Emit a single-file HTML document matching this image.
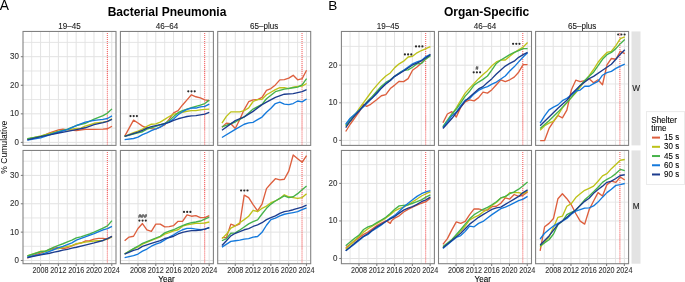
<!DOCTYPE html><html><head><meta charset="utf-8"><style>html,body{margin:0;padding:0;background:#fff;width:685px;height:282px;overflow:hidden}</style></head><body><svg width="685" height="282" viewBox="0 0 685 282" style="display:block;will-change:transform">
<rect width="685" height="282" fill="#fff"/>
<line x1="31.68" y1="31.45" x2="31.68" y2="145.4" stroke="#E2E2E2" stroke-width="0.85"/>
<line x1="49.48" y1="31.45" x2="49.48" y2="145.4" stroke="#E2E2E2" stroke-width="0.85"/>
<line x1="67.28" y1="31.45" x2="67.28" y2="145.4" stroke="#E2E2E2" stroke-width="0.85"/>
<line x1="85.07" y1="31.45" x2="85.07" y2="145.4" stroke="#E2E2E2" stroke-width="0.85"/>
<line x1="102.87" y1="31.45" x2="102.87" y2="145.4" stroke="#E2E2E2" stroke-width="0.85"/>
<line x1="23.0" y1="128.12" x2="116.0" y2="128.12" stroke="#E2E2E2" stroke-width="0.85"/>
<line x1="23.0" y1="99.55" x2="116.0" y2="99.55" stroke="#E2E2E2" stroke-width="0.85"/>
<line x1="23.0" y1="70.97" x2="116.0" y2="70.97" stroke="#E2E2E2" stroke-width="0.85"/>
<line x1="23.0" y1="42.41" x2="116.0" y2="42.41" stroke="#E2E2E2" stroke-width="0.85"/>
<line x1="40.58" y1="31.45" x2="40.58" y2="145.4" stroke="#E2E2E2" stroke-width="1.0"/>
<line x1="58.38" y1="31.45" x2="58.38" y2="145.4" stroke="#E2E2E2" stroke-width="1.0"/>
<line x1="76.17" y1="31.45" x2="76.17" y2="145.4" stroke="#E2E2E2" stroke-width="1.0"/>
<line x1="93.97" y1="31.45" x2="93.97" y2="145.4" stroke="#E2E2E2" stroke-width="1.0"/>
<line x1="111.77" y1="31.45" x2="111.77" y2="145.4" stroke="#E2E2E2" stroke-width="1.0"/>
<line x1="23.0" y1="142.40" x2="116.0" y2="142.40" stroke="#E2E2E2" stroke-width="1.0"/>
<line x1="23.0" y1="113.83" x2="116.0" y2="113.83" stroke="#E2E2E2" stroke-width="1.0"/>
<line x1="23.0" y1="85.26" x2="116.0" y2="85.26" stroke="#E2E2E2" stroke-width="1.0"/>
<line x1="23.0" y1="56.69" x2="116.0" y2="56.69" stroke="#E2E2E2" stroke-width="1.0"/>
<line x1="107.32" y1="31.45" x2="107.32" y2="145.4" stroke="#EE3B3B" stroke-width="1.15" stroke-dasharray="0.01 2" stroke-linecap="round"/>
<polyline points="27.33,139.06 40.70,136.52 49.60,132.97 58.51,129.84 62.97,129.19 67.42,129.84 76.33,130.46 85.24,129.33 94.15,129.33 103.06,129.19 107.51,128.77 111.97,126.23" fill="none" stroke="#DD5F3E" stroke-width="1.35" stroke-linejoin="round" stroke-linecap="butt"/>
<polyline points="27.33,139.06 40.70,135.96 49.60,133.56 58.51,131.16 67.42,129.84 76.33,128.34 80.79,128.06 85.24,126.09 94.15,123.27 103.06,122.14 107.51,121.29 111.97,118.76" fill="none" stroke="#BDC219" stroke-width="1.35" stroke-linejoin="round" stroke-linecap="butt"/>
<polyline points="27.33,138.78 40.70,136.52 49.60,134.27 58.51,131.73 67.42,129.19 76.33,125.52 85.24,123.27 94.15,119.18 103.06,115.65 107.51,113.11 111.97,108.88" fill="none" stroke="#46B24A" stroke-width="1.35" stroke-linejoin="round" stroke-linecap="butt"/>
<polyline points="27.33,140.19 40.70,137.93 49.60,134.83 58.51,132.01 67.42,129.61 76.33,125.52 85.24,122.14 94.15,120.45 103.06,119.32 107.51,118.47 111.97,115.94" fill="none" stroke="#1479DC" stroke-width="1.35" stroke-linejoin="round" stroke-linecap="butt"/>
<polyline points="27.33,139.91 40.70,136.66 49.60,134.83 58.51,132.97 67.42,131.45 76.33,129.61 85.24,127.78 94.15,124.68 103.06,122.70 107.51,121.29 111.97,119.32" fill="none" stroke="#1C3C8E" stroke-width="1.35" stroke-linejoin="round" stroke-linecap="butt"/>
<rect x="23.0" y="31.45" width="93.0" height="113.95" fill="none" stroke="#808080" stroke-width="1.07"/>
<line x1="31.68" y1="150.45" x2="31.68" y2="263.7" stroke="#E2E2E2" stroke-width="0.85"/>
<line x1="49.48" y1="150.45" x2="49.48" y2="263.7" stroke="#E2E2E2" stroke-width="0.85"/>
<line x1="67.28" y1="150.45" x2="67.28" y2="263.7" stroke="#E2E2E2" stroke-width="0.85"/>
<line x1="85.07" y1="150.45" x2="85.07" y2="263.7" stroke="#E2E2E2" stroke-width="0.85"/>
<line x1="102.87" y1="150.45" x2="102.87" y2="263.7" stroke="#E2E2E2" stroke-width="0.85"/>
<line x1="23.0" y1="246.31" x2="116.0" y2="246.31" stroke="#E2E2E2" stroke-width="0.85"/>
<line x1="23.0" y1="217.94" x2="116.0" y2="217.94" stroke="#E2E2E2" stroke-width="0.85"/>
<line x1="23.0" y1="189.57" x2="116.0" y2="189.57" stroke="#E2E2E2" stroke-width="0.85"/>
<line x1="23.0" y1="161.20" x2="116.0" y2="161.20" stroke="#E2E2E2" stroke-width="0.85"/>
<line x1="40.58" y1="150.45" x2="40.58" y2="263.7" stroke="#E2E2E2" stroke-width="1.0"/>
<line x1="58.38" y1="150.45" x2="58.38" y2="263.7" stroke="#E2E2E2" stroke-width="1.0"/>
<line x1="76.17" y1="150.45" x2="76.17" y2="263.7" stroke="#E2E2E2" stroke-width="1.0"/>
<line x1="93.97" y1="150.45" x2="93.97" y2="263.7" stroke="#E2E2E2" stroke-width="1.0"/>
<line x1="111.77" y1="150.45" x2="111.77" y2="263.7" stroke="#E2E2E2" stroke-width="1.0"/>
<line x1="23.0" y1="260.50" x2="116.0" y2="260.50" stroke="#E2E2E2" stroke-width="1.0"/>
<line x1="23.0" y1="232.13" x2="116.0" y2="232.13" stroke="#E2E2E2" stroke-width="1.0"/>
<line x1="23.0" y1="203.76" x2="116.0" y2="203.76" stroke="#E2E2E2" stroke-width="1.0"/>
<line x1="23.0" y1="175.39" x2="116.0" y2="175.39" stroke="#E2E2E2" stroke-width="1.0"/>
<line x1="107.32" y1="150.45" x2="107.32" y2="263.7" stroke="#EE3B3B" stroke-width="1.15" stroke-dasharray="0.01 2" stroke-linecap="round"/>
<polyline points="27.33,258.24 31.79,255.99 40.70,253.17 45.15,251.48 49.60,249.50 54.06,248.18 58.51,247.53 62.97,248.65 67.42,247.72 71.88,245.95 76.33,244.14 80.79,243.01 85.24,241.04 89.70,240.76 94.15,239.21 98.60,238.36 103.06,238.36 107.51,239.21 111.97,236.36" fill="none" stroke="#DD5F3E" stroke-width="1.35" stroke-linejoin="round" stroke-linecap="butt"/>
<polyline points="27.33,255.99 36.24,252.89 40.70,251.28 45.15,251.48 49.60,250.40 54.06,249.08 58.51,248.65 62.97,247.30 67.42,246.40 71.88,245.55 76.33,243.58 80.79,243.01 85.24,242.17 89.70,241.60 94.15,241.04 103.06,240.48 107.51,238.84 111.97,236.81" fill="none" stroke="#BDC219" stroke-width="1.35" stroke-linejoin="round" stroke-linecap="butt"/>
<polyline points="27.33,255.99 40.70,251.76 45.15,251.28 49.60,249.08 54.06,247.02 58.51,245.27 62.97,243.75 67.42,241.97 71.88,240.19 76.33,237.94 80.79,236.81 85.24,235.40 89.70,233.99 94.15,232.13 98.60,230.15 103.06,228.07 107.51,225.92 111.97,220.59" fill="none" stroke="#46B24A" stroke-width="1.35" stroke-linejoin="round" stroke-linecap="butt"/>
<polyline points="27.33,257.12 40.70,254.30 45.15,253.22 49.60,251.28 54.06,249.50 58.51,247.72 62.97,246.40 67.42,244.62 71.88,242.84 76.33,240.19 85.24,236.81 94.15,233.62 103.06,229.90 107.51,228.63 111.97,226.37" fill="none" stroke="#1479DC" stroke-width="1.35" stroke-linejoin="round" stroke-linecap="butt"/>
<polyline points="27.33,257.68 40.70,254.86 45.15,254.13 49.60,253.22 54.06,252.18 58.51,251.28 62.97,250.21 67.42,249.33 71.88,248.18 76.33,247.24 85.24,245.13 94.15,242.93 103.06,240.48 107.51,238.59 111.97,236.36" fill="none" stroke="#1C3C8E" stroke-width="1.35" stroke-linejoin="round" stroke-linecap="butt"/>
<rect x="23.0" y="150.45" width="93.0" height="113.25" fill="none" stroke="#808080" stroke-width="1.07"/>
<text transform="translate(69.50,28.70) scale(0.870,1)" font-family="Liberation Sans, sans-serif" font-size="9.30" fill="#1A1A1A" stroke="#1A1A1A" stroke-width="0.1" text-anchor="middle" >19–45</text>
<line x1="40.58" y1="263.7" x2="40.58" y2="265.90" stroke="#808080" stroke-width="1.07"/>
<text transform="translate(40.58,272.90) scale(0.840,1)" font-family="Liberation Sans, sans-serif" font-size="8.60" fill="#333333" stroke="#333333" stroke-width="0.1" text-anchor="middle" >2008</text>
<line x1="58.38" y1="263.7" x2="58.38" y2="265.90" stroke="#808080" stroke-width="1.07"/>
<text transform="translate(58.38,272.90) scale(0.840,1)" font-family="Liberation Sans, sans-serif" font-size="8.60" fill="#333333" stroke="#333333" stroke-width="0.1" text-anchor="middle" >2012</text>
<line x1="76.17" y1="263.7" x2="76.17" y2="265.90" stroke="#808080" stroke-width="1.07"/>
<text transform="translate(76.17,272.90) scale(0.840,1)" font-family="Liberation Sans, sans-serif" font-size="8.60" fill="#333333" stroke="#333333" stroke-width="0.1" text-anchor="middle" >2016</text>
<line x1="93.97" y1="263.7" x2="93.97" y2="265.90" stroke="#808080" stroke-width="1.07"/>
<text transform="translate(93.97,272.90) scale(0.840,1)" font-family="Liberation Sans, sans-serif" font-size="8.60" fill="#333333" stroke="#333333" stroke-width="0.1" text-anchor="middle" >2020</text>
<line x1="111.77" y1="263.7" x2="111.77" y2="265.90" stroke="#808080" stroke-width="1.07"/>
<text transform="translate(111.77,272.90) scale(0.840,1)" font-family="Liberation Sans, sans-serif" font-size="8.60" fill="#333333" stroke="#333333" stroke-width="0.1" text-anchor="middle" >2024</text>
<line x1="129.08" y1="31.45" x2="129.08" y2="145.4" stroke="#E2E2E2" stroke-width="0.85"/>
<line x1="146.88" y1="31.45" x2="146.88" y2="145.4" stroke="#E2E2E2" stroke-width="0.85"/>
<line x1="164.68" y1="31.45" x2="164.68" y2="145.4" stroke="#E2E2E2" stroke-width="0.85"/>
<line x1="182.47" y1="31.45" x2="182.47" y2="145.4" stroke="#E2E2E2" stroke-width="0.85"/>
<line x1="200.27" y1="31.45" x2="200.27" y2="145.4" stroke="#E2E2E2" stroke-width="0.85"/>
<line x1="120.4" y1="128.12" x2="213.4" y2="128.12" stroke="#E2E2E2" stroke-width="0.85"/>
<line x1="120.4" y1="99.55" x2="213.4" y2="99.55" stroke="#E2E2E2" stroke-width="0.85"/>
<line x1="120.4" y1="70.97" x2="213.4" y2="70.97" stroke="#E2E2E2" stroke-width="0.85"/>
<line x1="120.4" y1="42.41" x2="213.4" y2="42.41" stroke="#E2E2E2" stroke-width="0.85"/>
<line x1="137.98" y1="31.45" x2="137.98" y2="145.4" stroke="#E2E2E2" stroke-width="1.0"/>
<line x1="155.78" y1="31.45" x2="155.78" y2="145.4" stroke="#E2E2E2" stroke-width="1.0"/>
<line x1="173.57" y1="31.45" x2="173.57" y2="145.4" stroke="#E2E2E2" stroke-width="1.0"/>
<line x1="191.37" y1="31.45" x2="191.37" y2="145.4" stroke="#E2E2E2" stroke-width="1.0"/>
<line x1="209.17" y1="31.45" x2="209.17" y2="145.4" stroke="#E2E2E2" stroke-width="1.0"/>
<line x1="120.4" y1="142.40" x2="213.4" y2="142.40" stroke="#E2E2E2" stroke-width="1.0"/>
<line x1="120.4" y1="113.83" x2="213.4" y2="113.83" stroke="#E2E2E2" stroke-width="1.0"/>
<line x1="120.4" y1="85.26" x2="213.4" y2="85.26" stroke="#E2E2E2" stroke-width="1.0"/>
<line x1="120.4" y1="56.69" x2="213.4" y2="56.69" stroke="#E2E2E2" stroke-width="1.0"/>
<line x1="204.72" y1="31.45" x2="204.72" y2="145.4" stroke="#EE3B3B" stroke-width="1.15" stroke-dasharray="0.01 2" stroke-linecap="round"/>
<polyline points="124.63,136.41 133.54,120.17 138.00,122.99 142.45,126.09 146.90,127.78 151.36,128.63 155.81,129.19 160.27,126.93 164.72,124.96 169.18,119.04 173.63,112.83 178.09,110.58 182.54,104.94 187.00,99.86 191.45,94.78 195.90,96.76 200.36,97.89 204.81,99.86 209.27,100.71" fill="none" stroke="#DD5F3E" stroke-width="1.35" stroke-linejoin="round" stroke-linecap="butt"/>
<polyline points="124.63,136.41 133.54,132.58 138.00,131.02 142.45,129.19 146.90,126.37 151.36,124.23 155.81,123.83 160.27,122.14 164.72,119.32 169.18,116.50 173.63,114.10 178.09,113.40 182.54,112.27 187.00,111.28 191.45,110.58 195.90,110.58 200.36,109.87 204.81,109.45 209.27,109.17" fill="none" stroke="#BDC219" stroke-width="1.35" stroke-linejoin="round" stroke-linecap="butt"/>
<polyline points="124.63,136.41 138.00,132.86 142.45,131.73 146.90,129.19 151.36,127.78 155.81,126.37 160.27,124.96 164.72,123.27 169.18,120.73 173.63,116.50 178.09,112.69 182.54,110.58 187.00,109.17 191.45,107.76 195.90,106.35 200.36,105.22 204.81,103.53 209.27,100.14" fill="none" stroke="#46B24A" stroke-width="1.35" stroke-linejoin="round" stroke-linecap="butt"/>
<polyline points="124.63,139.60 133.54,138.50 138.00,137.09 142.45,134.55 146.90,132.86 151.36,130.60 155.81,128.91 160.27,127.08 164.72,124.11 169.18,121.86 173.63,119.04 178.09,114.81 182.54,111.70 187.00,109.45 191.45,108.04 195.90,108.04 200.36,106.91 204.81,106.35 209.27,104.09" fill="none" stroke="#1479DC" stroke-width="1.35" stroke-linejoin="round" stroke-linecap="butt"/>
<polyline points="124.63,136.41 138.00,132.10 142.45,130.32 146.90,128.06 151.36,126.65 155.81,125.64 160.27,124.59 164.72,123.55 169.18,122.42 173.63,120.45 178.09,118.76 182.54,117.63 187.00,116.50 191.45,115.94 195.90,115.65 200.36,114.81 204.81,114.10 209.27,112.27" fill="none" stroke="#1C3C8E" stroke-width="1.35" stroke-linejoin="round" stroke-linecap="butt"/>
<rect x="120.4" y="31.45" width="93.0" height="113.95" fill="none" stroke="#808080" stroke-width="1.07"/>
<line x1="129.08" y1="150.45" x2="129.08" y2="263.7" stroke="#E2E2E2" stroke-width="0.85"/>
<line x1="146.88" y1="150.45" x2="146.88" y2="263.7" stroke="#E2E2E2" stroke-width="0.85"/>
<line x1="164.68" y1="150.45" x2="164.68" y2="263.7" stroke="#E2E2E2" stroke-width="0.85"/>
<line x1="182.47" y1="150.45" x2="182.47" y2="263.7" stroke="#E2E2E2" stroke-width="0.85"/>
<line x1="200.27" y1="150.45" x2="200.27" y2="263.7" stroke="#E2E2E2" stroke-width="0.85"/>
<line x1="120.4" y1="246.31" x2="213.4" y2="246.31" stroke="#E2E2E2" stroke-width="0.85"/>
<line x1="120.4" y1="217.94" x2="213.4" y2="217.94" stroke="#E2E2E2" stroke-width="0.85"/>
<line x1="120.4" y1="189.57" x2="213.4" y2="189.57" stroke="#E2E2E2" stroke-width="0.85"/>
<line x1="120.4" y1="161.20" x2="213.4" y2="161.20" stroke="#E2E2E2" stroke-width="0.85"/>
<line x1="137.98" y1="150.45" x2="137.98" y2="263.7" stroke="#E2E2E2" stroke-width="1.0"/>
<line x1="155.78" y1="150.45" x2="155.78" y2="263.7" stroke="#E2E2E2" stroke-width="1.0"/>
<line x1="173.57" y1="150.45" x2="173.57" y2="263.7" stroke="#E2E2E2" stroke-width="1.0"/>
<line x1="191.37" y1="150.45" x2="191.37" y2="263.7" stroke="#E2E2E2" stroke-width="1.0"/>
<line x1="209.17" y1="150.45" x2="209.17" y2="263.7" stroke="#E2E2E2" stroke-width="1.0"/>
<line x1="120.4" y1="260.50" x2="213.4" y2="260.50" stroke="#E2E2E2" stroke-width="1.0"/>
<line x1="120.4" y1="232.13" x2="213.4" y2="232.13" stroke="#E2E2E2" stroke-width="1.0"/>
<line x1="120.4" y1="203.76" x2="213.4" y2="203.76" stroke="#E2E2E2" stroke-width="1.0"/>
<line x1="120.4" y1="175.39" x2="213.4" y2="175.39" stroke="#E2E2E2" stroke-width="1.0"/>
<line x1="204.72" y1="150.45" x2="204.72" y2="263.7" stroke="#EE3B3B" stroke-width="1.15" stroke-dasharray="0.01 2" stroke-linecap="round"/>
<polyline points="124.63,240.76 129.09,237.09 133.54,236.25 138.00,228.49 142.45,223.55 146.90,229.90 151.36,231.31 155.81,224.12 160.27,224.12 164.72,226.94 169.18,226.66 173.63,225.53 178.09,221.30 182.54,221.30 187.00,214.81 191.45,216.22 195.90,215.66 200.36,217.63 204.81,217.63 209.27,215.66" fill="none" stroke="#DD5F3E" stroke-width="1.35" stroke-linejoin="round" stroke-linecap="butt"/>
<polyline points="124.63,253.73 133.54,248.94 138.00,246.96 142.45,244.14 151.36,240.48 160.27,236.98 164.72,234.13 169.18,232.58 173.63,230.89 178.09,229.76 182.54,226.23 187.00,224.82 191.45,224.12 195.90,223.41 200.36,223.41 204.81,222.99 209.27,222.00" fill="none" stroke="#BDC219" stroke-width="1.35" stroke-linejoin="round" stroke-linecap="butt"/>
<polyline points="124.63,254.01 133.54,248.65 138.00,246.20 142.45,243.30 151.36,239.91 160.27,236.25 164.72,232.86 169.18,231.17 173.63,229.76 178.09,227.64 182.54,225.53 187.00,223.84 191.45,222.71 195.90,222.00 200.36,221.02 204.81,219.18 209.27,217.07" fill="none" stroke="#46B24A" stroke-width="1.35" stroke-linejoin="round" stroke-linecap="butt"/>
<polyline points="124.63,257.68 133.54,255.71 138.00,254.01 142.45,251.19 146.90,249.05 151.36,246.20 155.81,244.14 160.27,242.65 164.72,239.91 169.18,237.09 173.63,234.84 178.09,232.01 182.54,229.76 187.00,228.35 191.45,228.35 195.90,229.05 200.36,229.76 204.81,229.05 209.27,227.64" fill="none" stroke="#1479DC" stroke-width="1.35" stroke-linejoin="round" stroke-linecap="butt"/>
<polyline points="124.63,254.01 133.54,250.35 138.00,249.05 142.45,246.40 151.36,243.30 160.27,240.53 164.72,238.50 169.18,237.66 173.63,236.25 178.09,233.99 182.54,232.30 187.00,231.45 191.45,230.60 195.90,230.60 200.36,230.04 204.81,229.05 209.27,227.64" fill="none" stroke="#1C3C8E" stroke-width="1.35" stroke-linejoin="round" stroke-linecap="butt"/>
<rect x="120.4" y="150.45" width="93.0" height="113.25" fill="none" stroke="#808080" stroke-width="1.07"/>
<text transform="translate(166.90,28.70) scale(0.870,1)" font-family="Liberation Sans, sans-serif" font-size="9.30" fill="#1A1A1A" stroke="#1A1A1A" stroke-width="0.1" text-anchor="middle" >46–64</text>
<line x1="137.98" y1="263.7" x2="137.98" y2="265.90" stroke="#808080" stroke-width="1.07"/>
<text transform="translate(137.98,272.90) scale(0.840,1)" font-family="Liberation Sans, sans-serif" font-size="8.60" fill="#333333" stroke="#333333" stroke-width="0.1" text-anchor="middle" >2008</text>
<line x1="155.78" y1="263.7" x2="155.78" y2="265.90" stroke="#808080" stroke-width="1.07"/>
<text transform="translate(155.78,272.90) scale(0.840,1)" font-family="Liberation Sans, sans-serif" font-size="8.60" fill="#333333" stroke="#333333" stroke-width="0.1" text-anchor="middle" >2012</text>
<line x1="173.57" y1="263.7" x2="173.57" y2="265.90" stroke="#808080" stroke-width="1.07"/>
<text transform="translate(173.57,272.90) scale(0.840,1)" font-family="Liberation Sans, sans-serif" font-size="8.60" fill="#333333" stroke="#333333" stroke-width="0.1" text-anchor="middle" >2016</text>
<line x1="191.37" y1="263.7" x2="191.37" y2="265.90" stroke="#808080" stroke-width="1.07"/>
<text transform="translate(191.37,272.90) scale(0.840,1)" font-family="Liberation Sans, sans-serif" font-size="8.60" fill="#333333" stroke="#333333" stroke-width="0.1" text-anchor="middle" >2020</text>
<line x1="209.17" y1="263.7" x2="209.17" y2="265.90" stroke="#808080" stroke-width="1.07"/>
<text transform="translate(209.17,272.90) scale(0.840,1)" font-family="Liberation Sans, sans-serif" font-size="8.60" fill="#333333" stroke="#333333" stroke-width="0.1" text-anchor="middle" >2024</text>
<line x1="226.38" y1="31.45" x2="226.38" y2="145.4" stroke="#E2E2E2" stroke-width="0.85"/>
<line x1="244.18" y1="31.45" x2="244.18" y2="145.4" stroke="#E2E2E2" stroke-width="0.85"/>
<line x1="261.98" y1="31.45" x2="261.98" y2="145.4" stroke="#E2E2E2" stroke-width="0.85"/>
<line x1="279.77" y1="31.45" x2="279.77" y2="145.4" stroke="#E2E2E2" stroke-width="0.85"/>
<line x1="297.57" y1="31.45" x2="297.57" y2="145.4" stroke="#E2E2E2" stroke-width="0.85"/>
<line x1="217.7" y1="128.12" x2="310.7" y2="128.12" stroke="#E2E2E2" stroke-width="0.85"/>
<line x1="217.7" y1="99.55" x2="310.7" y2="99.55" stroke="#E2E2E2" stroke-width="0.85"/>
<line x1="217.7" y1="70.97" x2="310.7" y2="70.97" stroke="#E2E2E2" stroke-width="0.85"/>
<line x1="217.7" y1="42.41" x2="310.7" y2="42.41" stroke="#E2E2E2" stroke-width="0.85"/>
<line x1="235.28" y1="31.45" x2="235.28" y2="145.4" stroke="#E2E2E2" stroke-width="1.0"/>
<line x1="253.08" y1="31.45" x2="253.08" y2="145.4" stroke="#E2E2E2" stroke-width="1.0"/>
<line x1="270.87" y1="31.45" x2="270.87" y2="145.4" stroke="#E2E2E2" stroke-width="1.0"/>
<line x1="288.67" y1="31.45" x2="288.67" y2="145.4" stroke="#E2E2E2" stroke-width="1.0"/>
<line x1="306.47" y1="31.45" x2="306.47" y2="145.4" stroke="#E2E2E2" stroke-width="1.0"/>
<line x1="217.7" y1="142.40" x2="310.7" y2="142.40" stroke="#E2E2E2" stroke-width="1.0"/>
<line x1="217.7" y1="113.83" x2="310.7" y2="113.83" stroke="#E2E2E2" stroke-width="1.0"/>
<line x1="217.7" y1="85.26" x2="310.7" y2="85.26" stroke="#E2E2E2" stroke-width="1.0"/>
<line x1="217.7" y1="56.69" x2="310.7" y2="56.69" stroke="#E2E2E2" stroke-width="1.0"/>
<line x1="302.02" y1="31.45" x2="302.02" y2="145.4" stroke="#EE3B3B" stroke-width="1.15" stroke-dasharray="0.01 2" stroke-linecap="round"/>
<polyline points="221.93,127.36 226.39,123.13 230.84,123.69 235.30,128.49 239.75,119.46 244.20,109.59 248.66,101.72 253.11,99.80 257.57,99.55 262.02,97.32 266.48,90.27 270.93,88.58 275.39,84.91 279.84,79.84 284.30,79.55 288.75,78.14 293.20,75.32 297.66,79.84 302.11,78.71 306.57,70.25" fill="none" stroke="#DD5F3E" stroke-width="1.35" stroke-linejoin="round" stroke-linecap="butt"/>
<polyline points="221.93,123.13 226.39,116.36 230.84,111.85 239.75,111.85 244.20,110.72 248.66,107.93 253.11,101.50 257.57,99.55 262.02,99.30 266.48,94.78 270.93,92.24 275.39,89.71 279.84,87.73 284.30,87.73 288.75,88.58 293.20,87.17 297.66,86.32 302.11,86.04 306.57,83.50" fill="none" stroke="#BDC219" stroke-width="1.35" stroke-linejoin="round" stroke-linecap="butt"/>
<polyline points="221.93,126.79 235.30,122.00 244.20,116.92 253.11,109.11 262.02,104.37 266.48,98.73 275.39,91.68 284.30,89.14 293.20,87.73 297.66,87.17 302.11,84.91 306.57,78.71" fill="none" stroke="#46B24A" stroke-width="1.35" stroke-linejoin="round" stroke-linecap="butt"/>
<polyline points="221.93,137.51 235.30,129.33 244.20,124.26 248.66,122.87 253.11,122.34 257.57,119.57 262.02,117.06 266.48,112.27 270.93,108.32 275.39,103.53 279.84,102.12 284.30,104.09 288.75,104.65 293.20,103.53 297.66,100.99 302.11,101.83 306.57,99.01" fill="none" stroke="#1479DC" stroke-width="1.35" stroke-linejoin="round" stroke-linecap="butt"/>
<polyline points="221.93,130.18 235.30,120.59 244.20,116.92 253.11,111.37 262.02,104.65 266.48,102.12 275.39,97.32 284.30,94.22 293.20,93.65 302.11,91.68 306.57,89.71" fill="none" stroke="#1C3C8E" stroke-width="1.35" stroke-linejoin="round" stroke-linecap="butt"/>
<rect x="217.7" y="31.45" width="93.0" height="113.95" fill="none" stroke="#808080" stroke-width="1.07"/>
<line x1="226.38" y1="150.45" x2="226.38" y2="263.7" stroke="#E2E2E2" stroke-width="0.85"/>
<line x1="244.18" y1="150.45" x2="244.18" y2="263.7" stroke="#E2E2E2" stroke-width="0.85"/>
<line x1="261.98" y1="150.45" x2="261.98" y2="263.7" stroke="#E2E2E2" stroke-width="0.85"/>
<line x1="279.77" y1="150.45" x2="279.77" y2="263.7" stroke="#E2E2E2" stroke-width="0.85"/>
<line x1="297.57" y1="150.45" x2="297.57" y2="263.7" stroke="#E2E2E2" stroke-width="0.85"/>
<line x1="217.7" y1="246.31" x2="310.7" y2="246.31" stroke="#E2E2E2" stroke-width="0.85"/>
<line x1="217.7" y1="217.94" x2="310.7" y2="217.94" stroke="#E2E2E2" stroke-width="0.85"/>
<line x1="217.7" y1="189.57" x2="310.7" y2="189.57" stroke="#E2E2E2" stroke-width="0.85"/>
<line x1="217.7" y1="161.20" x2="310.7" y2="161.20" stroke="#E2E2E2" stroke-width="0.85"/>
<line x1="235.28" y1="150.45" x2="235.28" y2="263.7" stroke="#E2E2E2" stroke-width="1.0"/>
<line x1="253.08" y1="150.45" x2="253.08" y2="263.7" stroke="#E2E2E2" stroke-width="1.0"/>
<line x1="270.87" y1="150.45" x2="270.87" y2="263.7" stroke="#E2E2E2" stroke-width="1.0"/>
<line x1="288.67" y1="150.45" x2="288.67" y2="263.7" stroke="#E2E2E2" stroke-width="1.0"/>
<line x1="306.47" y1="150.45" x2="306.47" y2="263.7" stroke="#E2E2E2" stroke-width="1.0"/>
<line x1="217.7" y1="260.50" x2="310.7" y2="260.50" stroke="#E2E2E2" stroke-width="1.0"/>
<line x1="217.7" y1="232.13" x2="310.7" y2="232.13" stroke="#E2E2E2" stroke-width="1.0"/>
<line x1="217.7" y1="203.76" x2="310.7" y2="203.76" stroke="#E2E2E2" stroke-width="1.0"/>
<line x1="217.7" y1="175.39" x2="310.7" y2="175.39" stroke="#E2E2E2" stroke-width="1.0"/>
<line x1="302.02" y1="150.45" x2="302.02" y2="263.7" stroke="#EE3B3B" stroke-width="1.15" stroke-dasharray="0.01 2" stroke-linecap="round"/>
<polyline points="221.93,237.66 226.39,237.66 230.84,224.12 235.30,225.81 239.75,223.84 244.20,195.07 248.66,197.61 253.11,204.66 257.57,210.86 262.02,204.09 266.48,188.58 270.93,183.51 275.39,178.71 279.84,179.84 284.30,179.28 288.75,171.10 293.20,155.02 297.66,158.69 302.11,162.35 306.57,155.58" fill="none" stroke="#DD5F3E" stroke-width="1.35" stroke-linejoin="round" stroke-linecap="butt"/>
<polyline points="221.93,238.61 226.39,234.27 230.84,228.07 235.30,225.81 239.75,222.71 244.20,219.61 248.66,216.22 253.11,210.30 257.57,211.71 262.02,208.32 266.48,206.07 270.93,202.68 275.39,200.99 279.84,198.45 284.30,194.79 288.75,196.76 293.20,197.61 297.66,198.45 302.11,197.61 306.57,193.66" fill="none" stroke="#BDC219" stroke-width="1.35" stroke-linejoin="round" stroke-linecap="butt"/>
<polyline points="221.93,240.76 226.39,238.61 230.84,233.28 235.30,232.86 239.75,230.04 244.20,226.94 248.66,223.84 253.11,221.58 257.57,219.89 262.02,213.97 266.48,208.32 270.93,204.09 275.39,200.99 279.84,198.45 284.30,195.92 288.75,197.61 293.20,196.76 297.66,193.66 302.11,189.71 306.57,186.04" fill="none" stroke="#46B24A" stroke-width="1.35" stroke-linejoin="round" stroke-linecap="butt"/>
<polyline points="221.93,247.13 230.84,241.38 235.30,240.76 239.75,240.19 244.20,239.07 248.66,238.61 253.11,237.09 257.57,236.53 262.02,232.30 266.48,225.25 270.93,219.61 275.39,218.20 279.84,215.94 284.30,214.25 288.75,213.40 293.20,212.55 297.66,211.71 302.11,209.73 306.57,207.76" fill="none" stroke="#1479DC" stroke-width="1.35" stroke-linejoin="round" stroke-linecap="butt"/>
<polyline points="221.93,245.41 226.39,240.76 230.84,235.85 235.30,233.28 239.75,231.59 244.20,229.76 248.66,228.63 253.11,226.49 257.57,224.80 262.02,222.71 266.48,219.61 270.93,217.63 275.39,215.94 279.84,213.40 284.30,211.71 288.75,210.86 293.20,209.73 297.66,208.32 302.11,207.20 306.57,205.22" fill="none" stroke="#1C3C8E" stroke-width="1.35" stroke-linejoin="round" stroke-linecap="butt"/>
<rect x="217.7" y="150.45" width="93.0" height="113.25" fill="none" stroke="#808080" stroke-width="1.07"/>
<text transform="translate(264.20,28.70) scale(0.870,1)" font-family="Liberation Sans, sans-serif" font-size="9.30" fill="#1A1A1A" stroke="#1A1A1A" stroke-width="0.1" text-anchor="middle" >65–plus</text>
<line x1="235.28" y1="263.7" x2="235.28" y2="265.90" stroke="#808080" stroke-width="1.07"/>
<text transform="translate(235.28,272.90) scale(0.840,1)" font-family="Liberation Sans, sans-serif" font-size="8.60" fill="#333333" stroke="#333333" stroke-width="0.1" text-anchor="middle" >2008</text>
<line x1="253.08" y1="263.7" x2="253.08" y2="265.90" stroke="#808080" stroke-width="1.07"/>
<text transform="translate(253.08,272.90) scale(0.840,1)" font-family="Liberation Sans, sans-serif" font-size="8.60" fill="#333333" stroke="#333333" stroke-width="0.1" text-anchor="middle" >2012</text>
<line x1="270.87" y1="263.7" x2="270.87" y2="265.90" stroke="#808080" stroke-width="1.07"/>
<text transform="translate(270.87,272.90) scale(0.840,1)" font-family="Liberation Sans, sans-serif" font-size="8.60" fill="#333333" stroke="#333333" stroke-width="0.1" text-anchor="middle" >2016</text>
<line x1="288.67" y1="263.7" x2="288.67" y2="265.90" stroke="#808080" stroke-width="1.07"/>
<text transform="translate(288.67,272.90) scale(0.840,1)" font-family="Liberation Sans, sans-serif" font-size="8.60" fill="#333333" stroke="#333333" stroke-width="0.1" text-anchor="middle" >2020</text>
<line x1="306.47" y1="263.7" x2="306.47" y2="265.90" stroke="#808080" stroke-width="1.07"/>
<text transform="translate(306.47,272.90) scale(0.840,1)" font-family="Liberation Sans, sans-serif" font-size="8.60" fill="#333333" stroke="#333333" stroke-width="0.1" text-anchor="middle" >2024</text>
<line x1="20.80" y1="142.40" x2="23.0" y2="142.40" stroke="#808080" stroke-width="1.07"/>
<text transform="translate(19.00,144.80) scale(0.930,1)" font-family="Liberation Sans, sans-serif" font-size="8.60" fill="#333333" stroke="#333333" stroke-width="0.1" text-anchor="end" >0</text>
<line x1="20.80" y1="113.83" x2="23.0" y2="113.83" stroke="#808080" stroke-width="1.07"/>
<text transform="translate(19.00,116.23) scale(0.930,1)" font-family="Liberation Sans, sans-serif" font-size="8.60" fill="#333333" stroke="#333333" stroke-width="0.1" text-anchor="end" >10</text>
<line x1="20.80" y1="85.26" x2="23.0" y2="85.26" stroke="#808080" stroke-width="1.07"/>
<text transform="translate(19.00,87.66) scale(0.930,1)" font-family="Liberation Sans, sans-serif" font-size="8.60" fill="#333333" stroke="#333333" stroke-width="0.1" text-anchor="end" >20</text>
<line x1="20.80" y1="56.69" x2="23.0" y2="56.69" stroke="#808080" stroke-width="1.07"/>
<text transform="translate(19.00,59.09) scale(0.930,1)" font-family="Liberation Sans, sans-serif" font-size="8.60" fill="#333333" stroke="#333333" stroke-width="0.1" text-anchor="end" >30</text>
<line x1="20.80" y1="260.50" x2="23.0" y2="260.50" stroke="#808080" stroke-width="1.07"/>
<text transform="translate(19.00,262.90) scale(0.930,1)" font-family="Liberation Sans, sans-serif" font-size="8.60" fill="#333333" stroke="#333333" stroke-width="0.1" text-anchor="end" >0</text>
<line x1="20.80" y1="232.13" x2="23.0" y2="232.13" stroke="#808080" stroke-width="1.07"/>
<text transform="translate(19.00,234.53) scale(0.930,1)" font-family="Liberation Sans, sans-serif" font-size="8.60" fill="#333333" stroke="#333333" stroke-width="0.1" text-anchor="end" >10</text>
<line x1="20.80" y1="203.76" x2="23.0" y2="203.76" stroke="#808080" stroke-width="1.07"/>
<text transform="translate(19.00,206.16) scale(0.930,1)" font-family="Liberation Sans, sans-serif" font-size="8.60" fill="#333333" stroke="#333333" stroke-width="0.1" text-anchor="end" >20</text>
<line x1="20.80" y1="175.39" x2="23.0" y2="175.39" stroke="#808080" stroke-width="1.07"/>
<text transform="translate(19.00,177.79) scale(0.930,1)" font-family="Liberation Sans, sans-serif" font-size="8.60" fill="#333333" stroke="#333333" stroke-width="0.1" text-anchor="end" >30</text>
<line x1="350.08" y1="31.45" x2="350.08" y2="145.4" stroke="#E2E2E2" stroke-width="0.85"/>
<line x1="367.88" y1="31.45" x2="367.88" y2="145.4" stroke="#E2E2E2" stroke-width="0.85"/>
<line x1="385.68" y1="31.45" x2="385.68" y2="145.4" stroke="#E2E2E2" stroke-width="0.85"/>
<line x1="403.47" y1="31.45" x2="403.47" y2="145.4" stroke="#E2E2E2" stroke-width="0.85"/>
<line x1="421.27" y1="31.45" x2="421.27" y2="145.4" stroke="#E2E2E2" stroke-width="0.85"/>
<line x1="341.4" y1="121.60" x2="434.4" y2="121.60" stroke="#E2E2E2" stroke-width="0.85"/>
<line x1="341.4" y1="84.00" x2="434.4" y2="84.00" stroke="#E2E2E2" stroke-width="0.85"/>
<line x1="341.4" y1="46.40" x2="434.4" y2="46.40" stroke="#E2E2E2" stroke-width="0.85"/>
<line x1="358.98" y1="31.45" x2="358.98" y2="145.4" stroke="#E2E2E2" stroke-width="1.0"/>
<line x1="376.78" y1="31.45" x2="376.78" y2="145.4" stroke="#E2E2E2" stroke-width="1.0"/>
<line x1="394.57" y1="31.45" x2="394.57" y2="145.4" stroke="#E2E2E2" stroke-width="1.0"/>
<line x1="412.37" y1="31.45" x2="412.37" y2="145.4" stroke="#E2E2E2" stroke-width="1.0"/>
<line x1="430.17" y1="31.45" x2="430.17" y2="145.4" stroke="#E2E2E2" stroke-width="1.0"/>
<line x1="341.4" y1="140.40" x2="434.4" y2="140.40" stroke="#E2E2E2" stroke-width="1.0"/>
<line x1="341.4" y1="102.80" x2="434.4" y2="102.80" stroke="#E2E2E2" stroke-width="1.0"/>
<line x1="341.4" y1="65.20" x2="434.4" y2="65.20" stroke="#E2E2E2" stroke-width="1.0"/>
<line x1="425.72" y1="31.45" x2="425.72" y2="145.4" stroke="#EE3B3B" stroke-width="1.15" stroke-dasharray="0.01 2" stroke-linecap="round"/>
<polyline points="345.73,131.48 350.19,124.26 354.64,118.17 359.10,111.90 363.55,104.68 366.67,106.39 370.68,104.30 376.91,99.55 381.37,95.75 385.82,94.61 390.28,88.53 394.73,85.11 399.19,81.30 403.64,81.68 408.10,78.64 412.55,70.28 417.00,67.05 421.46,63.06 425.91,58.88 430.37,54.32" fill="none" stroke="#DD5F3E" stroke-width="1.35" stroke-linejoin="round" stroke-linecap="butt"/>
<polyline points="345.73,126.16 350.19,121.21 354.64,115.51 359.10,108.67 363.55,102.59 368.00,96.51 372.46,90.43 376.91,85.11 381.37,80.16 385.82,75.98 390.28,72.94 394.73,67.62 399.19,63.82 403.64,61.16 408.10,56.98 412.55,56.22 417.00,52.80 421.46,50.52 425.91,48.62 430.37,46.72" fill="none" stroke="#BDC219" stroke-width="1.35" stroke-linejoin="round" stroke-linecap="butt"/>
<polyline points="345.73,125.40 350.19,118.93 354.64,114.37 359.10,110.19 363.55,106.01 368.00,100.69 372.46,96.13 376.91,91.19 381.37,86.25 385.82,82.44 390.28,79.78 394.73,75.98 399.19,72.94 403.64,70.28 408.10,69.90 412.55,67.24 417.00,63.82 421.46,63.44 425.91,58.88 430.37,55.84" fill="none" stroke="#46B24A" stroke-width="1.35" stroke-linejoin="round" stroke-linecap="butt"/>
<polyline points="345.73,124.26 350.19,118.17 354.64,114.56 359.10,110.57 363.55,106.77 368.00,102.21 372.46,97.65 376.91,93.47 381.37,88.15 385.82,83.58 390.28,80.54 394.73,76.36 399.19,73.32 403.64,70.28 408.10,67.05 412.55,63.82 417.00,61.92 421.46,60.40 425.91,56.60 430.37,54.32" fill="none" stroke="#1479DC" stroke-width="1.35" stroke-linejoin="round" stroke-linecap="butt"/>
<polyline points="345.73,127.68 350.19,121.21 354.64,115.89 359.10,110.95 363.55,105.63 368.00,101.45 372.46,97.65 376.91,92.71 381.37,88.15 385.82,83.97 390.28,80.54 394.73,76.36 399.19,73.70 403.64,71.04 408.10,68.00 412.55,64.96 417.00,63.06 421.46,60.78 425.91,57.74 430.37,54.70" fill="none" stroke="#1C3C8E" stroke-width="1.35" stroke-linejoin="round" stroke-linecap="butt"/>
<rect x="341.4" y="31.45" width="93.0" height="113.95" fill="none" stroke="#808080" stroke-width="1.07"/>
<line x1="350.08" y1="150.45" x2="350.08" y2="263.7" stroke="#E2E2E2" stroke-width="0.85"/>
<line x1="367.88" y1="150.45" x2="367.88" y2="263.7" stroke="#E2E2E2" stroke-width="0.85"/>
<line x1="385.68" y1="150.45" x2="385.68" y2="263.7" stroke="#E2E2E2" stroke-width="0.85"/>
<line x1="403.47" y1="150.45" x2="403.47" y2="263.7" stroke="#E2E2E2" stroke-width="0.85"/>
<line x1="421.27" y1="150.45" x2="421.27" y2="263.7" stroke="#E2E2E2" stroke-width="0.85"/>
<line x1="341.4" y1="239.72" x2="434.4" y2="239.72" stroke="#E2E2E2" stroke-width="0.85"/>
<line x1="341.4" y1="202.18" x2="434.4" y2="202.18" stroke="#E2E2E2" stroke-width="0.85"/>
<line x1="341.4" y1="164.62" x2="434.4" y2="164.62" stroke="#E2E2E2" stroke-width="0.85"/>
<line x1="358.98" y1="150.45" x2="358.98" y2="263.7" stroke="#E2E2E2" stroke-width="1.0"/>
<line x1="376.78" y1="150.45" x2="376.78" y2="263.7" stroke="#E2E2E2" stroke-width="1.0"/>
<line x1="394.57" y1="150.45" x2="394.57" y2="263.7" stroke="#E2E2E2" stroke-width="1.0"/>
<line x1="412.37" y1="150.45" x2="412.37" y2="263.7" stroke="#E2E2E2" stroke-width="1.0"/>
<line x1="430.17" y1="150.45" x2="430.17" y2="263.7" stroke="#E2E2E2" stroke-width="1.0"/>
<line x1="341.4" y1="258.50" x2="434.4" y2="258.50" stroke="#E2E2E2" stroke-width="1.0"/>
<line x1="341.4" y1="220.95" x2="434.4" y2="220.95" stroke="#E2E2E2" stroke-width="1.0"/>
<line x1="341.4" y1="183.40" x2="434.4" y2="183.40" stroke="#E2E2E2" stroke-width="1.0"/>
<line x1="425.72" y1="150.45" x2="425.72" y2="263.7" stroke="#EE3B3B" stroke-width="1.15" stroke-dasharray="0.01 2" stroke-linecap="round"/>
<polyline points="345.73,247.72 354.64,240.88 363.55,234.41 368.00,232.13 376.91,225.67 381.37,223.01 385.82,220.73 388.05,221.87 390.28,223.39 391.61,220.73 394.73,218.07 399.19,215.79 403.64,211.99 408.10,209.33 412.55,207.05 421.46,203.25 425.91,201.72 430.37,198.30" fill="none" stroke="#DD5F3E" stroke-width="1.35" stroke-linejoin="round" stroke-linecap="butt"/>
<polyline points="345.73,249.24 354.64,240.50 363.55,232.13 368.00,228.71 376.91,223.39 385.82,218.07 390.28,214.65 394.73,210.85 399.19,208.57 403.64,207.05 408.10,204.77 412.55,201.72 417.00,199.06 421.46,196.02 425.91,193.74 430.37,191.84" fill="none" stroke="#BDC219" stroke-width="1.35" stroke-linejoin="round" stroke-linecap="butt"/>
<polyline points="345.73,245.82 350.19,242.02 354.64,238.21 359.10,235.17 363.55,229.47 368.00,226.81 372.46,225.29 376.91,222.63 381.37,219.97 385.82,217.31 390.28,213.51 394.73,209.33 399.19,205.91 403.64,205.34 408.10,204.96 412.55,203.25 417.00,201.72 421.46,199.82 425.91,197.16 430.37,194.88" fill="none" stroke="#46B24A" stroke-width="1.35" stroke-linejoin="round" stroke-linecap="butt"/>
<polyline points="345.73,250.76 354.64,243.92 363.55,236.69 368.00,234.41 372.46,230.61 376.91,227.95 381.37,224.91 385.82,221.49 390.28,218.07 394.73,215.41 399.19,211.23 403.64,207.05 408.10,203.25 412.55,199.82 417.00,196.40 421.46,193.74 425.91,191.84 430.37,190.70" fill="none" stroke="#1479DC" stroke-width="1.35" stroke-linejoin="round" stroke-linecap="butt"/>
<polyline points="345.73,250.76 354.64,243.16 363.55,236.31 368.00,233.65 376.91,226.81 385.82,221.49 390.28,218.83 394.73,216.55 399.19,213.13 403.64,210.09 408.10,208.19 412.55,206.67 417.00,204.39 421.46,201.72 425.91,199.82 430.37,197.16" fill="none" stroke="#1C3C8E" stroke-width="1.35" stroke-linejoin="round" stroke-linecap="butt"/>
<rect x="341.4" y="150.45" width="93.0" height="113.25" fill="none" stroke="#808080" stroke-width="1.07"/>
<text transform="translate(387.90,28.70) scale(0.870,1)" font-family="Liberation Sans, sans-serif" font-size="9.30" fill="#1A1A1A" stroke="#1A1A1A" stroke-width="0.1" text-anchor="middle" >19–45</text>
<line x1="358.98" y1="263.7" x2="358.98" y2="265.90" stroke="#808080" stroke-width="1.07"/>
<text transform="translate(358.98,272.90) scale(0.840,1)" font-family="Liberation Sans, sans-serif" font-size="8.60" fill="#333333" stroke="#333333" stroke-width="0.1" text-anchor="middle" >2008</text>
<line x1="376.78" y1="263.7" x2="376.78" y2="265.90" stroke="#808080" stroke-width="1.07"/>
<text transform="translate(376.78,272.90) scale(0.840,1)" font-family="Liberation Sans, sans-serif" font-size="8.60" fill="#333333" stroke="#333333" stroke-width="0.1" text-anchor="middle" >2012</text>
<line x1="394.57" y1="263.7" x2="394.57" y2="265.90" stroke="#808080" stroke-width="1.07"/>
<text transform="translate(394.57,272.90) scale(0.840,1)" font-family="Liberation Sans, sans-serif" font-size="8.60" fill="#333333" stroke="#333333" stroke-width="0.1" text-anchor="middle" >2016</text>
<line x1="412.37" y1="263.7" x2="412.37" y2="265.90" stroke="#808080" stroke-width="1.07"/>
<text transform="translate(412.37,272.90) scale(0.840,1)" font-family="Liberation Sans, sans-serif" font-size="8.60" fill="#333333" stroke="#333333" stroke-width="0.1" text-anchor="middle" >2020</text>
<line x1="430.17" y1="263.7" x2="430.17" y2="265.90" stroke="#808080" stroke-width="1.07"/>
<text transform="translate(430.17,272.90) scale(0.840,1)" font-family="Liberation Sans, sans-serif" font-size="8.60" fill="#333333" stroke="#333333" stroke-width="0.1" text-anchor="middle" >2024</text>
<line x1="447.18" y1="31.45" x2="447.18" y2="145.4" stroke="#E2E2E2" stroke-width="0.85"/>
<line x1="464.98" y1="31.45" x2="464.98" y2="145.4" stroke="#E2E2E2" stroke-width="0.85"/>
<line x1="482.78" y1="31.45" x2="482.78" y2="145.4" stroke="#E2E2E2" stroke-width="0.85"/>
<line x1="500.57" y1="31.45" x2="500.57" y2="145.4" stroke="#E2E2E2" stroke-width="0.85"/>
<line x1="518.37" y1="31.45" x2="518.37" y2="145.4" stroke="#E2E2E2" stroke-width="0.85"/>
<line x1="438.5" y1="121.60" x2="531.5" y2="121.60" stroke="#E2E2E2" stroke-width="0.85"/>
<line x1="438.5" y1="84.00" x2="531.5" y2="84.00" stroke="#E2E2E2" stroke-width="0.85"/>
<line x1="438.5" y1="46.40" x2="531.5" y2="46.40" stroke="#E2E2E2" stroke-width="0.85"/>
<line x1="456.08" y1="31.45" x2="456.08" y2="145.4" stroke="#E2E2E2" stroke-width="1.0"/>
<line x1="473.88" y1="31.45" x2="473.88" y2="145.4" stroke="#E2E2E2" stroke-width="1.0"/>
<line x1="491.67" y1="31.45" x2="491.67" y2="145.4" stroke="#E2E2E2" stroke-width="1.0"/>
<line x1="509.47" y1="31.45" x2="509.47" y2="145.4" stroke="#E2E2E2" stroke-width="1.0"/>
<line x1="527.27" y1="31.45" x2="527.27" y2="145.4" stroke="#E2E2E2" stroke-width="1.0"/>
<line x1="438.5" y1="140.40" x2="531.5" y2="140.40" stroke="#E2E2E2" stroke-width="1.0"/>
<line x1="438.5" y1="102.80" x2="531.5" y2="102.80" stroke="#E2E2E2" stroke-width="1.0"/>
<line x1="438.5" y1="65.20" x2="531.5" y2="65.20" stroke="#E2E2E2" stroke-width="1.0"/>
<line x1="522.82" y1="31.45" x2="522.82" y2="145.4" stroke="#EE3B3B" stroke-width="1.15" stroke-dasharray="0.01 2" stroke-linecap="round"/>
<polyline points="442.93,122.74 447.39,113.99 451.84,111.71 456.30,117.03 460.75,107.15 465.20,101.83 469.66,99.93 474.11,100.88 478.57,97.65 483.02,92.14 487.48,93.09 491.93,89.67 496.39,84.73 500.84,79.78 505.30,81.68 509.75,79.78 514.20,77.12 518.66,72.18 523.11,64.58 527.57,64.58" fill="none" stroke="#DD5F3E" stroke-width="1.35" stroke-linejoin="round" stroke-linecap="butt"/>
<polyline points="442.93,126.92 447.39,120.83 451.84,114.75 456.30,107.91 460.75,100.31 465.20,93.09 469.66,88.15 474.11,83.39 478.57,78.64 483.02,74.46 487.48,70.66 491.93,65.72 496.39,61.92 500.84,60.02 505.30,60.02 509.75,56.22 514.20,52.80 518.66,49.76 523.11,47.10 527.57,42.53" fill="none" stroke="#BDC219" stroke-width="1.35" stroke-linejoin="round" stroke-linecap="butt"/>
<polyline points="442.93,126.54 451.84,113.99 456.30,109.05 460.75,102.97 465.20,96.13 469.66,91.19 474.11,85.11 478.57,82.06 483.02,79.40 487.48,75.98 491.93,69.90 496.39,63.44 500.84,60.02 505.30,57.36 509.75,54.70 514.20,52.42 518.66,50.52 523.11,48.62 527.57,48.62" fill="none" stroke="#46B24A" stroke-width="1.35" stroke-linejoin="round" stroke-linecap="butt"/>
<polyline points="442.93,127.68 451.84,115.89 456.30,112.09 460.75,105.63 465.20,100.08 469.66,98.52 474.11,93.85 478.57,90.43 483.02,88.15 487.48,86.63 491.93,84.16 496.39,82.06 500.84,79.02 505.30,75.98 509.75,71.04 514.20,66.86 518.66,61.92 523.11,56.98 527.57,52.80" fill="none" stroke="#1479DC" stroke-width="1.35" stroke-linejoin="round" stroke-linecap="butt"/>
<polyline points="442.93,128.44 451.84,118.55 456.30,112.85 460.75,107.15 465.20,101.07 469.66,96.89 474.11,92.90 478.57,88.91 483.02,86.63 487.48,82.44 491.93,78.64 496.39,74.08 500.84,69.90 505.30,66.10 509.75,63.44 514.20,61.16 518.66,57.36 523.11,54.70 527.57,52.42" fill="none" stroke="#1C3C8E" stroke-width="1.35" stroke-linejoin="round" stroke-linecap="butt"/>
<rect x="438.5" y="31.45" width="93.0" height="113.95" fill="none" stroke="#808080" stroke-width="1.07"/>
<line x1="447.18" y1="150.45" x2="447.18" y2="263.7" stroke="#E2E2E2" stroke-width="0.85"/>
<line x1="464.98" y1="150.45" x2="464.98" y2="263.7" stroke="#E2E2E2" stroke-width="0.85"/>
<line x1="482.78" y1="150.45" x2="482.78" y2="263.7" stroke="#E2E2E2" stroke-width="0.85"/>
<line x1="500.57" y1="150.45" x2="500.57" y2="263.7" stroke="#E2E2E2" stroke-width="0.85"/>
<line x1="518.37" y1="150.45" x2="518.37" y2="263.7" stroke="#E2E2E2" stroke-width="0.85"/>
<line x1="438.5" y1="239.72" x2="531.5" y2="239.72" stroke="#E2E2E2" stroke-width="0.85"/>
<line x1="438.5" y1="202.18" x2="531.5" y2="202.18" stroke="#E2E2E2" stroke-width="0.85"/>
<line x1="438.5" y1="164.62" x2="531.5" y2="164.62" stroke="#E2E2E2" stroke-width="0.85"/>
<line x1="456.08" y1="150.45" x2="456.08" y2="263.7" stroke="#E2E2E2" stroke-width="1.0"/>
<line x1="473.88" y1="150.45" x2="473.88" y2="263.7" stroke="#E2E2E2" stroke-width="1.0"/>
<line x1="491.67" y1="150.45" x2="491.67" y2="263.7" stroke="#E2E2E2" stroke-width="1.0"/>
<line x1="509.47" y1="150.45" x2="509.47" y2="263.7" stroke="#E2E2E2" stroke-width="1.0"/>
<line x1="527.27" y1="150.45" x2="527.27" y2="263.7" stroke="#E2E2E2" stroke-width="1.0"/>
<line x1="438.5" y1="258.50" x2="531.5" y2="258.50" stroke="#E2E2E2" stroke-width="1.0"/>
<line x1="438.5" y1="220.95" x2="531.5" y2="220.95" stroke="#E2E2E2" stroke-width="1.0"/>
<line x1="438.5" y1="183.40" x2="531.5" y2="183.40" stroke="#E2E2E2" stroke-width="1.0"/>
<line x1="522.82" y1="150.45" x2="522.82" y2="263.7" stroke="#EE3B3B" stroke-width="1.15" stroke-dasharray="0.01 2" stroke-linecap="round"/>
<polyline points="442.93,244.30 447.39,238.59 451.84,229.85 456.30,221.87 460.75,223.39 465.20,221.49 469.66,214.65 474.11,208.95 478.57,208.95 483.02,210.09 487.48,210.09 491.93,206.67 496.39,206.29 500.84,203.25 505.30,197.92 509.75,199.06 514.20,194.50 518.66,196.40 523.11,195.26 527.57,191.84" fill="none" stroke="#DD5F3E" stroke-width="1.35" stroke-linejoin="round" stroke-linecap="butt"/>
<polyline points="442.93,247.72 451.84,239.73 460.75,231.37 465.20,226.05 469.66,219.97 474.11,217.31 478.57,215.41 483.02,211.99 487.48,209.33 491.93,205.53 496.39,202.49 500.84,197.92 505.30,197.16 509.75,192.60 514.20,192.60 518.66,192.60 523.11,193.74 527.57,191.08" fill="none" stroke="#BDC219" stroke-width="1.35" stroke-linejoin="round" stroke-linecap="butt"/>
<polyline points="442.93,246.58 451.84,239.73 460.75,229.47 465.20,224.15 469.66,218.83 474.11,214.65 478.57,211.99 483.02,209.33 487.48,207.43 491.93,204.77 496.39,201.72 500.84,197.92 505.30,196.40 509.75,193.74 514.20,191.84 518.66,189.18 523.11,185.76 527.57,181.96" fill="none" stroke="#46B24A" stroke-width="1.35" stroke-linejoin="round" stroke-linecap="butt"/>
<polyline points="442.93,248.48 451.84,240.88 456.30,237.45 460.75,235.55 465.20,231.37 469.66,226.05 474.11,226.81 478.57,223.39 483.02,221.49 487.48,218.07 491.93,214.65 496.39,211.61 500.84,208.57 505.30,207.05 509.75,205.15 514.20,202.87 518.66,200.58 523.11,199.06 527.57,196.40" fill="none" stroke="#1479DC" stroke-width="1.35" stroke-linejoin="round" stroke-linecap="butt"/>
<polyline points="442.93,247.72 451.84,240.50 460.75,233.27 465.20,228.71 469.66,224.15 474.11,220.73 478.57,217.31 483.02,214.65 487.48,211.99 491.93,209.33 496.39,207.81 500.84,207.05 505.30,204.39 509.75,201.72 514.20,199.06 518.66,196.40 523.11,192.60 527.57,189.94" fill="none" stroke="#1C3C8E" stroke-width="1.35" stroke-linejoin="round" stroke-linecap="butt"/>
<rect x="438.5" y="150.45" width="93.0" height="113.25" fill="none" stroke="#808080" stroke-width="1.07"/>
<text transform="translate(485.00,28.70) scale(0.870,1)" font-family="Liberation Sans, sans-serif" font-size="9.30" fill="#1A1A1A" stroke="#1A1A1A" stroke-width="0.1" text-anchor="middle" >46–64</text>
<line x1="456.08" y1="263.7" x2="456.08" y2="265.90" stroke="#808080" stroke-width="1.07"/>
<text transform="translate(456.08,272.90) scale(0.840,1)" font-family="Liberation Sans, sans-serif" font-size="8.60" fill="#333333" stroke="#333333" stroke-width="0.1" text-anchor="middle" >2008</text>
<line x1="473.88" y1="263.7" x2="473.88" y2="265.90" stroke="#808080" stroke-width="1.07"/>
<text transform="translate(473.88,272.90) scale(0.840,1)" font-family="Liberation Sans, sans-serif" font-size="8.60" fill="#333333" stroke="#333333" stroke-width="0.1" text-anchor="middle" >2012</text>
<line x1="491.67" y1="263.7" x2="491.67" y2="265.90" stroke="#808080" stroke-width="1.07"/>
<text transform="translate(491.67,272.90) scale(0.840,1)" font-family="Liberation Sans, sans-serif" font-size="8.60" fill="#333333" stroke="#333333" stroke-width="0.1" text-anchor="middle" >2016</text>
<line x1="509.47" y1="263.7" x2="509.47" y2="265.90" stroke="#808080" stroke-width="1.07"/>
<text transform="translate(509.47,272.90) scale(0.840,1)" font-family="Liberation Sans, sans-serif" font-size="8.60" fill="#333333" stroke="#333333" stroke-width="0.1" text-anchor="middle" >2020</text>
<line x1="527.27" y1="263.7" x2="527.27" y2="265.90" stroke="#808080" stroke-width="1.07"/>
<text transform="translate(527.27,272.90) scale(0.840,1)" font-family="Liberation Sans, sans-serif" font-size="8.60" fill="#333333" stroke="#333333" stroke-width="0.1" text-anchor="middle" >2024</text>
<line x1="544.28" y1="31.45" x2="544.28" y2="145.4" stroke="#E2E2E2" stroke-width="0.85"/>
<line x1="562.08" y1="31.45" x2="562.08" y2="145.4" stroke="#E2E2E2" stroke-width="0.85"/>
<line x1="579.88" y1="31.45" x2="579.88" y2="145.4" stroke="#E2E2E2" stroke-width="0.85"/>
<line x1="597.67" y1="31.45" x2="597.67" y2="145.4" stroke="#E2E2E2" stroke-width="0.85"/>
<line x1="615.47" y1="31.45" x2="615.47" y2="145.4" stroke="#E2E2E2" stroke-width="0.85"/>
<line x1="535.6" y1="121.60" x2="628.6" y2="121.60" stroke="#E2E2E2" stroke-width="0.85"/>
<line x1="535.6" y1="84.00" x2="628.6" y2="84.00" stroke="#E2E2E2" stroke-width="0.85"/>
<line x1="535.6" y1="46.40" x2="628.6" y2="46.40" stroke="#E2E2E2" stroke-width="0.85"/>
<line x1="553.18" y1="31.45" x2="553.18" y2="145.4" stroke="#E2E2E2" stroke-width="1.0"/>
<line x1="570.98" y1="31.45" x2="570.98" y2="145.4" stroke="#E2E2E2" stroke-width="1.0"/>
<line x1="588.77" y1="31.45" x2="588.77" y2="145.4" stroke="#E2E2E2" stroke-width="1.0"/>
<line x1="606.57" y1="31.45" x2="606.57" y2="145.4" stroke="#E2E2E2" stroke-width="1.0"/>
<line x1="624.37" y1="31.45" x2="624.37" y2="145.4" stroke="#E2E2E2" stroke-width="1.0"/>
<line x1="535.6" y1="140.40" x2="628.6" y2="140.40" stroke="#E2E2E2" stroke-width="1.0"/>
<line x1="535.6" y1="102.80" x2="628.6" y2="102.80" stroke="#E2E2E2" stroke-width="1.0"/>
<line x1="535.6" y1="65.20" x2="628.6" y2="65.20" stroke="#E2E2E2" stroke-width="1.0"/>
<line x1="619.92" y1="31.45" x2="619.92" y2="145.4" stroke="#EE3B3B" stroke-width="1.15" stroke-dasharray="0.01 2" stroke-linecap="round"/>
<polyline points="540.13,140.60 544.59,140.60 549.04,128.44 553.50,121.59 557.95,115.51 562.40,117.79 566.86,110.19 571.31,90.05 575.77,80.16 580.22,81.68 584.68,80.54 589.13,78.64 593.59,82.82 598.04,79.78 602.50,84.73 606.95,64.96 611.40,58.50 615.86,59.26 620.31,51.28 624.77,53.56" fill="none" stroke="#DD5F3E" stroke-width="1.35" stroke-linejoin="round" stroke-linecap="butt"/>
<polyline points="540.13,130.15 544.59,125.78 549.04,123.12 553.50,121.21 557.95,115.13 562.40,107.91 566.86,102.59 571.31,97.65 575.77,92.71 580.22,87.01 584.68,81.30 589.13,75.60 593.59,69.52 598.04,62.30 602.50,56.98 606.95,52.42 611.40,51.28 615.86,45.57 620.31,38.73 624.77,36.83" fill="none" stroke="#BDC219" stroke-width="1.35" stroke-linejoin="round" stroke-linecap="butt"/>
<polyline points="540.13,128.44 549.04,120.83 557.95,112.09 566.86,102.59 571.31,97.65 575.77,91.95 580.22,85.49 584.68,80.54 589.13,76.36 593.59,72.18 602.50,59.26 606.95,54.70 611.40,52.42 615.86,48.62 620.31,43.67 624.77,39.49" fill="none" stroke="#46B24A" stroke-width="1.35" stroke-linejoin="round" stroke-linecap="butt"/>
<polyline points="540.13,123.12 544.59,115.89 549.04,109.81 553.50,107.15 557.95,104.87 562.40,100.69 566.86,98.41 571.31,94.99 575.77,91.19 580.22,90.05 584.68,86.25 589.13,86.25 593.59,83.58 598.04,81.30 602.50,75.22 606.95,72.56 611.40,71.42 615.86,68.38 620.31,66.10 624.77,64.20" fill="none" stroke="#1479DC" stroke-width="1.35" stroke-linejoin="round" stroke-linecap="butt"/>
<polyline points="540.13,125.78 549.04,117.03 557.95,108.29 566.86,100.31 571.31,94.23 580.22,85.49 589.13,78.64 593.59,76.36 602.50,70.28 611.40,64.20 620.31,54.32 624.77,49.76" fill="none" stroke="#1C3C8E" stroke-width="1.35" stroke-linejoin="round" stroke-linecap="butt"/>
<rect x="535.6" y="31.45" width="93.0" height="113.95" fill="none" stroke="#808080" stroke-width="1.07"/>
<line x1="544.28" y1="150.45" x2="544.28" y2="263.7" stroke="#E2E2E2" stroke-width="0.85"/>
<line x1="562.08" y1="150.45" x2="562.08" y2="263.7" stroke="#E2E2E2" stroke-width="0.85"/>
<line x1="579.88" y1="150.45" x2="579.88" y2="263.7" stroke="#E2E2E2" stroke-width="0.85"/>
<line x1="597.67" y1="150.45" x2="597.67" y2="263.7" stroke="#E2E2E2" stroke-width="0.85"/>
<line x1="615.47" y1="150.45" x2="615.47" y2="263.7" stroke="#E2E2E2" stroke-width="0.85"/>
<line x1="535.6" y1="239.72" x2="628.6" y2="239.72" stroke="#E2E2E2" stroke-width="0.85"/>
<line x1="535.6" y1="202.18" x2="628.6" y2="202.18" stroke="#E2E2E2" stroke-width="0.85"/>
<line x1="535.6" y1="164.62" x2="628.6" y2="164.62" stroke="#E2E2E2" stroke-width="0.85"/>
<line x1="553.18" y1="150.45" x2="553.18" y2="263.7" stroke="#E2E2E2" stroke-width="1.0"/>
<line x1="570.98" y1="150.45" x2="570.98" y2="263.7" stroke="#E2E2E2" stroke-width="1.0"/>
<line x1="588.77" y1="150.45" x2="588.77" y2="263.7" stroke="#E2E2E2" stroke-width="1.0"/>
<line x1="606.57" y1="150.45" x2="606.57" y2="263.7" stroke="#E2E2E2" stroke-width="1.0"/>
<line x1="624.37" y1="150.45" x2="624.37" y2="263.7" stroke="#E2E2E2" stroke-width="1.0"/>
<line x1="535.6" y1="258.50" x2="628.6" y2="258.50" stroke="#E2E2E2" stroke-width="1.0"/>
<line x1="535.6" y1="220.95" x2="628.6" y2="220.95" stroke="#E2E2E2" stroke-width="1.0"/>
<line x1="535.6" y1="183.40" x2="628.6" y2="183.40" stroke="#E2E2E2" stroke-width="1.0"/>
<line x1="619.92" y1="150.45" x2="619.92" y2="263.7" stroke="#EE3B3B" stroke-width="1.15" stroke-dasharray="0.01 2" stroke-linecap="round"/>
<polyline points="540.13,250.76 544.59,226.81 549.04,223.39 553.50,218.45 557.95,198.68 562.40,193.74 566.86,198.68 571.31,204.77 575.77,213.51 580.22,221.11 584.68,224.15 589.13,209.71 593.59,200.96 598.04,192.60 602.50,196.02 606.95,184.62 611.40,181.20 615.86,182.34 620.31,177.02 624.77,180.06" fill="none" stroke="#DD5F3E" stroke-width="1.35" stroke-linejoin="round" stroke-linecap="butt"/>
<polyline points="540.13,246.96 549.04,237.07 553.50,227.19 557.95,217.31 562.40,216.17 566.86,206.29 571.31,203.63 575.77,197.54 580.22,193.74 584.68,190.32 589.13,188.42 593.59,186.14 598.04,181.20 602.50,175.88 606.95,173.60 611.40,168.66 615.86,164.47 620.31,160.29 624.77,159.53" fill="none" stroke="#BDC219" stroke-width="1.35" stroke-linejoin="round" stroke-linecap="butt"/>
<polyline points="540.13,245.82 549.04,239.73 553.50,234.03 557.95,224.53 562.40,221.11 566.86,214.65 571.31,212.37 575.77,210.47 580.22,205.15 584.68,199.82 589.13,196.02 593.59,191.84 598.04,187.28 602.50,182.34 606.95,179.30 611.40,177.02 615.86,173.60 620.31,169.42 624.77,170.56" fill="none" stroke="#46B24A" stroke-width="1.35" stroke-linejoin="round" stroke-linecap="butt"/>
<polyline points="540.13,238.97 544.59,233.27 549.04,229.47 553.50,226.05 557.95,223.39 562.40,221.11 566.86,218.45 571.31,214.27 575.77,211.23 580.22,209.71 584.68,208.19 589.13,207.81 593.59,205.91 598.04,202.10 602.50,197.16 606.95,192.60 611.40,189.18 615.86,185.38 620.31,184.62 624.77,183.48" fill="none" stroke="#1479DC" stroke-width="1.35" stroke-linejoin="round" stroke-linecap="butt"/>
<polyline points="540.13,245.06 549.04,235.93 557.95,224.53 566.86,217.31 575.77,209.71 584.68,201.34 589.13,198.30 593.59,193.36 598.04,189.56 602.50,186.14 606.95,182.34 611.40,181.20 615.86,178.54 620.31,175.50 624.77,174.74" fill="none" stroke="#1C3C8E" stroke-width="1.35" stroke-linejoin="round" stroke-linecap="butt"/>
<rect x="535.6" y="150.45" width="93.0" height="113.25" fill="none" stroke="#808080" stroke-width="1.07"/>
<text transform="translate(582.10,28.70) scale(0.870,1)" font-family="Liberation Sans, sans-serif" font-size="9.30" fill="#1A1A1A" stroke="#1A1A1A" stroke-width="0.1" text-anchor="middle" >65–plus</text>
<line x1="553.18" y1="263.7" x2="553.18" y2="265.90" stroke="#808080" stroke-width="1.07"/>
<text transform="translate(553.18,272.90) scale(0.840,1)" font-family="Liberation Sans, sans-serif" font-size="8.60" fill="#333333" stroke="#333333" stroke-width="0.1" text-anchor="middle" >2008</text>
<line x1="570.98" y1="263.7" x2="570.98" y2="265.90" stroke="#808080" stroke-width="1.07"/>
<text transform="translate(570.98,272.90) scale(0.840,1)" font-family="Liberation Sans, sans-serif" font-size="8.60" fill="#333333" stroke="#333333" stroke-width="0.1" text-anchor="middle" >2012</text>
<line x1="588.77" y1="263.7" x2="588.77" y2="265.90" stroke="#808080" stroke-width="1.07"/>
<text transform="translate(588.77,272.90) scale(0.840,1)" font-family="Liberation Sans, sans-serif" font-size="8.60" fill="#333333" stroke="#333333" stroke-width="0.1" text-anchor="middle" >2016</text>
<line x1="606.57" y1="263.7" x2="606.57" y2="265.90" stroke="#808080" stroke-width="1.07"/>
<text transform="translate(606.57,272.90) scale(0.840,1)" font-family="Liberation Sans, sans-serif" font-size="8.60" fill="#333333" stroke="#333333" stroke-width="0.1" text-anchor="middle" >2020</text>
<line x1="624.37" y1="263.7" x2="624.37" y2="265.90" stroke="#808080" stroke-width="1.07"/>
<text transform="translate(624.37,272.90) scale(0.840,1)" font-family="Liberation Sans, sans-serif" font-size="8.60" fill="#333333" stroke="#333333" stroke-width="0.1" text-anchor="middle" >2024</text>
<line x1="339.20" y1="140.40" x2="341.4" y2="140.40" stroke="#808080" stroke-width="1.07"/>
<text transform="translate(337.40,142.80) scale(0.930,1)" font-family="Liberation Sans, sans-serif" font-size="8.60" fill="#333333" stroke="#333333" stroke-width="0.1" text-anchor="end" >0</text>
<line x1="339.20" y1="102.80" x2="341.4" y2="102.80" stroke="#808080" stroke-width="1.07"/>
<text transform="translate(337.40,105.20) scale(0.930,1)" font-family="Liberation Sans, sans-serif" font-size="8.60" fill="#333333" stroke="#333333" stroke-width="0.1" text-anchor="end" >10</text>
<line x1="339.20" y1="65.20" x2="341.4" y2="65.20" stroke="#808080" stroke-width="1.07"/>
<text transform="translate(337.40,67.60) scale(0.930,1)" font-family="Liberation Sans, sans-serif" font-size="8.60" fill="#333333" stroke="#333333" stroke-width="0.1" text-anchor="end" >20</text>
<line x1="339.20" y1="258.50" x2="341.4" y2="258.50" stroke="#808080" stroke-width="1.07"/>
<text transform="translate(337.40,260.90) scale(0.930,1)" font-family="Liberation Sans, sans-serif" font-size="8.60" fill="#333333" stroke="#333333" stroke-width="0.1" text-anchor="end" >0</text>
<line x1="339.20" y1="220.95" x2="341.4" y2="220.95" stroke="#808080" stroke-width="1.07"/>
<text transform="translate(337.40,223.35) scale(0.930,1)" font-family="Liberation Sans, sans-serif" font-size="8.60" fill="#333333" stroke="#333333" stroke-width="0.1" text-anchor="end" >10</text>
<line x1="339.20" y1="183.40" x2="341.4" y2="183.40" stroke="#808080" stroke-width="1.07"/>
<text transform="translate(337.40,185.80) scale(0.930,1)" font-family="Liberation Sans, sans-serif" font-size="8.60" fill="#333333" stroke="#333333" stroke-width="0.1" text-anchor="end" >20</text>
<circle cx="130.50" cy="116.10" r="1.1" fill="#2A2A2A"/>
<circle cx="133.70" cy="116.10" r="1.1" fill="#2A2A2A"/>
<circle cx="136.90" cy="116.10" r="1.1" fill="#2A2A2A"/>
<circle cx="188.30" cy="91.30" r="1.1" fill="#2A2A2A"/>
<circle cx="191.50" cy="91.30" r="1.1" fill="#2A2A2A"/>
<circle cx="194.70" cy="91.30" r="1.1" fill="#2A2A2A"/>
<text transform="translate(142.60,217.50) scale(1.000,1)" font-family="Liberation Sans, sans-serif" font-size="5.30" fill="#2A2A2A" stroke="#2A2A2A" stroke-width="0.1" text-anchor="middle" font-weight="bold">###</text>
<circle cx="139.40" cy="220.60" r="1.1" fill="#2A2A2A"/>
<circle cx="142.60" cy="220.60" r="1.1" fill="#2A2A2A"/>
<circle cx="145.80" cy="220.60" r="1.1" fill="#2A2A2A"/>
<circle cx="184.00" cy="211.90" r="1.1" fill="#2A2A2A"/>
<circle cx="187.20" cy="211.90" r="1.1" fill="#2A2A2A"/>
<circle cx="190.40" cy="211.90" r="1.1" fill="#2A2A2A"/>
<circle cx="241.10" cy="190.50" r="1.1" fill="#2A2A2A"/>
<circle cx="244.30" cy="190.50" r="1.1" fill="#2A2A2A"/>
<circle cx="247.50" cy="190.50" r="1.1" fill="#2A2A2A"/>
<circle cx="404.90" cy="54.40" r="1.1" fill="#2A2A2A"/>
<circle cx="408.10" cy="54.40" r="1.1" fill="#2A2A2A"/>
<circle cx="411.30" cy="54.40" r="1.1" fill="#2A2A2A"/>
<circle cx="416.00" cy="46.40" r="1.1" fill="#2A2A2A"/>
<circle cx="419.20" cy="46.40" r="1.1" fill="#2A2A2A"/>
<circle cx="422.40" cy="46.40" r="1.1" fill="#2A2A2A"/>
<text transform="translate(476.90,70.20) scale(1.000,1)" font-family="Liberation Sans, sans-serif" font-size="5.30" fill="#2A2A2A" stroke="#2A2A2A" stroke-width="0.1" text-anchor="middle" font-weight="bold">#</text>
<circle cx="473.70" cy="72.30" r="1.1" fill="#2A2A2A"/>
<circle cx="476.90" cy="72.30" r="1.1" fill="#2A2A2A"/>
<circle cx="480.10" cy="72.30" r="1.1" fill="#2A2A2A"/>
<circle cx="513.10" cy="43.80" r="1.1" fill="#2A2A2A"/>
<circle cx="516.30" cy="43.80" r="1.1" fill="#2A2A2A"/>
<circle cx="519.50" cy="43.80" r="1.1" fill="#2A2A2A"/>
<circle cx="618.20" cy="34.50" r="1.1" fill="#2A2A2A"/>
<circle cx="621.40" cy="34.50" r="1.1" fill="#2A2A2A"/>
<circle cx="624.60" cy="34.50" r="1.1" fill="#2A2A2A"/>
<rect x="631.5" y="31.45" width="9.0" height="113.95" fill="#E3E3E3"/>
<text transform="translate(636.10,90.83) scale(0.920,1)" font-family="Liberation Sans, sans-serif" font-size="9.00" fill="#1A1A1A" stroke="#1A1A1A" stroke-width="0.1" text-anchor="middle" >W</text>
<rect x="631.5" y="150.45" width="9.0" height="113.25" fill="#E3E3E3"/>
<text transform="translate(636.10,209.47) scale(0.920,1)" font-family="Liberation Sans, sans-serif" font-size="9.00" fill="#1A1A1A" stroke="#1A1A1A" stroke-width="0.1" text-anchor="middle" >M</text>
<text x="167" y="16.3" font-family="Liberation Sans, sans-serif" font-size="12" font-weight="bold" fill="#000" text-anchor="middle">Bacterial Pneumonia</text>
<text x="486.6" y="16.3" font-family="Liberation Sans, sans-serif" font-size="12" font-weight="bold" fill="#000" text-anchor="middle">Organ-Specific</text>
<text x="-0.3" y="9.8" font-family="Liberation Sans, sans-serif" font-size="13.8" fill="#000">A</text>
<text x="328.2" y="9.9" font-family="Liberation Sans, sans-serif" font-size="13.6" fill="#000">B</text>
<text transform="translate(166.50,282.00) scale(0.870,1)" font-family="Liberation Sans, sans-serif" font-size="9.30" fill="#000" stroke="#000" stroke-width="0.1" text-anchor="middle" >Year</text>
<text transform="translate(482.70,282.00) scale(0.870,1)" font-family="Liberation Sans, sans-serif" font-size="9.30" fill="#000" stroke="#000" stroke-width="0.1" text-anchor="middle" >Year</text>
<text transform="translate(7.0,147.3) rotate(-90)" font-family="Liberation Sans, sans-serif" font-size="8.6" fill="#000" text-anchor="middle">% Cumulative</text>
<rect x="646.5" y="111.6" width="38" height="72.9" fill="#fff" stroke="#EBEBEB" stroke-width="1.0"/>
<text transform="translate(651.30,123.20) scale(0.870,1)" font-family="Liberation Sans, sans-serif" font-size="9.30" fill="#000" stroke="#000" stroke-width="0.1" text-anchor="start" >Shelter</text>
<text transform="translate(651.30,130.60) scale(0.870,1)" font-family="Liberation Sans, sans-serif" font-size="9.30" fill="#000" stroke="#000" stroke-width="0.1" text-anchor="start" >time</text>
<line x1="652" y1="137.60" x2="660" y2="137.60" stroke="#DD5F3E" stroke-width="2.0"/>
<text transform="translate(664.10,140.20) scale(0.870,1)" font-family="Liberation Sans, sans-serif" font-size="9.20" fill="#000" stroke="#000" stroke-width="0.1" text-anchor="start" >15 s</text>
<line x1="652" y1="146.82" x2="660" y2="146.82" stroke="#BDC219" stroke-width="2.0"/>
<text transform="translate(664.10,149.42) scale(0.870,1)" font-family="Liberation Sans, sans-serif" font-size="9.20" fill="#000" stroke="#000" stroke-width="0.1" text-anchor="start" >30 s</text>
<line x1="652" y1="156.04" x2="660" y2="156.04" stroke="#46B24A" stroke-width="2.0"/>
<text transform="translate(664.10,158.64) scale(0.870,1)" font-family="Liberation Sans, sans-serif" font-size="9.20" fill="#000" stroke="#000" stroke-width="0.1" text-anchor="start" >45 s</text>
<line x1="652" y1="165.26" x2="660" y2="165.26" stroke="#1479DC" stroke-width="2.0"/>
<text transform="translate(664.10,167.86) scale(0.870,1)" font-family="Liberation Sans, sans-serif" font-size="9.20" fill="#000" stroke="#000" stroke-width="0.1" text-anchor="start" >60 s</text>
<line x1="652" y1="174.48" x2="660" y2="174.48" stroke="#1C3C8E" stroke-width="2.0"/>
<text transform="translate(664.10,177.08) scale(0.870,1)" font-family="Liberation Sans, sans-serif" font-size="9.20" fill="#000" stroke="#000" stroke-width="0.1" text-anchor="start" >90 s</text>
</svg></body></html>
